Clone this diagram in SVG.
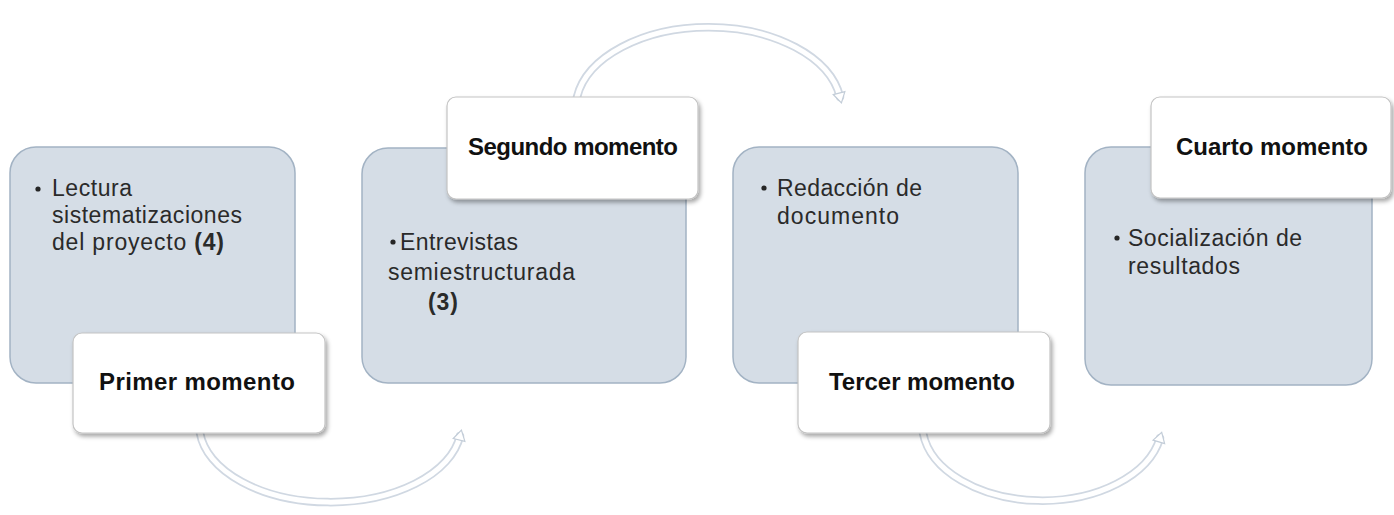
<svg xmlns="http://www.w3.org/2000/svg" width="1394" height="515" viewBox="0 0 1394 515">
<defs>
<style>
.box{fill:#d5dde6;stroke:#a3b3c4;stroke-width:1.5}
.lbl{fill:#ffffff;stroke:#c4c4c4;stroke-width:1.2;filter:url(#sh)}
.t{font-family:"Liberation Sans",Arial,sans-serif;font-size:23px;fill:#2a2a2a}
.b{font-family:"Liberation Sans",Arial,sans-serif;font-size:24px;font-weight:bold;fill:#111111}
.arcO{fill:none;stroke:#d0d8e2;stroke-width:8.5;stroke-linecap:round}
.arcI{fill:none;stroke:#ffffff;stroke-width:5;stroke-linecap:round}
.dot{fill:#262626}
</style>
<filter id="sh" x="-10%" y="-10%" width="130%" height="140%">
<feDropShadow dx="2" dy="3" stdDeviation="2" flood-color="#000000" flood-opacity="0.35"/>
</filter>
<marker id="ah" viewBox="-2 -8 16 16" markerWidth="16" markerHeight="16" refX="4" refY="0" orient="auto" markerUnits="userSpaceOnUse">
<path d="M0,-6 L10,0 L0,6 z" fill="#ffffff" stroke="#c3cdd8" stroke-width="1.2"/>
</marker>
</defs>

<g id="connectors">
<path class="arcO" d="M200,433 A131,77 0 0 0 460,436"/>
<path class="arcI" d="M200,433 A131,77 0 0 0 460,436" marker-end="url(#ah)"/>
<path class="arcO" d="M577,97 A133,82 0 0 1 840,97"/>
<path class="arcI" d="M577,97 A133,82 0 0 1 840,97" marker-end="url(#ah)"/>
<path class="arcO" d="M923,433 A120,77 0 0 0 1160,438"/>
<path class="arcI" d="M923,433 A120,77 0 0 0 1160,438" marker-end="url(#ah)"/>
</g>

<g id="node1">
<rect class="box" x="10" y="147" width="285" height="236" rx="26"/>
<circle class="dot" cx="38" cy="189" r="2.6"/>
<text class="t" x="52" y="196" textLength="80">Lectura</text>
<text class="t" x="52" y="223" textLength="190">sistematizaciones</text>
<text class="t" x="52" y="250" textLength="172">del proyecto <tspan font-weight="bold">(4)</tspan></text>
</g>
<g id="label1">
<rect class="lbl" x="73" y="333" width="252" height="100" rx="9"/>
<text class="b" x="197" y="390" text-anchor="middle" textLength="196">Primer momento</text>
</g>

<g id="node2">
<rect class="box" x="362" y="148" width="324" height="235" rx="26"/>
<circle class="dot" cx="393" cy="242" r="2.6"/>
<text class="t" x="400" y="250" textLength="118">Entrevistas</text>
<text class="t" x="388" y="280" textLength="187">semiestructurada</text>
<text class="t" x="428" y="310" font-weight="bold" textLength="30">(3)</text>
</g>
<g id="label2">
<rect class="lbl" x="447" y="97" width="251" height="102" rx="9"/>
<text class="b" x="573" y="155" text-anchor="middle" textLength="210">Segundo momento</text>
</g>

<g id="node3">
<rect class="box" x="733" y="147" width="285" height="236" rx="26"/>
<circle class="dot" cx="764" cy="188" r="2.6"/>
<text class="t" x="777" y="196" textLength="145">Redacción de</text>
<text class="t" x="777" y="224" textLength="122">documento</text>
</g>
<g id="label3">
<rect class="lbl" x="798" y="332" width="252" height="101" rx="9"/>
<text class="b" x="922" y="390" text-anchor="middle" textLength="186">Tercer momento</text>
</g>

<g id="node4">
<rect class="box" x="1085" y="147" width="287" height="238" rx="26"/>
<circle class="dot" cx="1117" cy="238" r="2.6"/>
<text class="t" x="1128" y="246" textLength="174">Socialización de</text>
<text class="t" x="1128" y="274" textLength="112">resultados</text>
</g>
<g id="label4">
<rect class="lbl" x="1151" y="97" width="240" height="101" rx="9"/>
<text class="b" x="1272" y="155" text-anchor="middle" textLength="192">Cuarto momento</text>
</g>
</svg>
